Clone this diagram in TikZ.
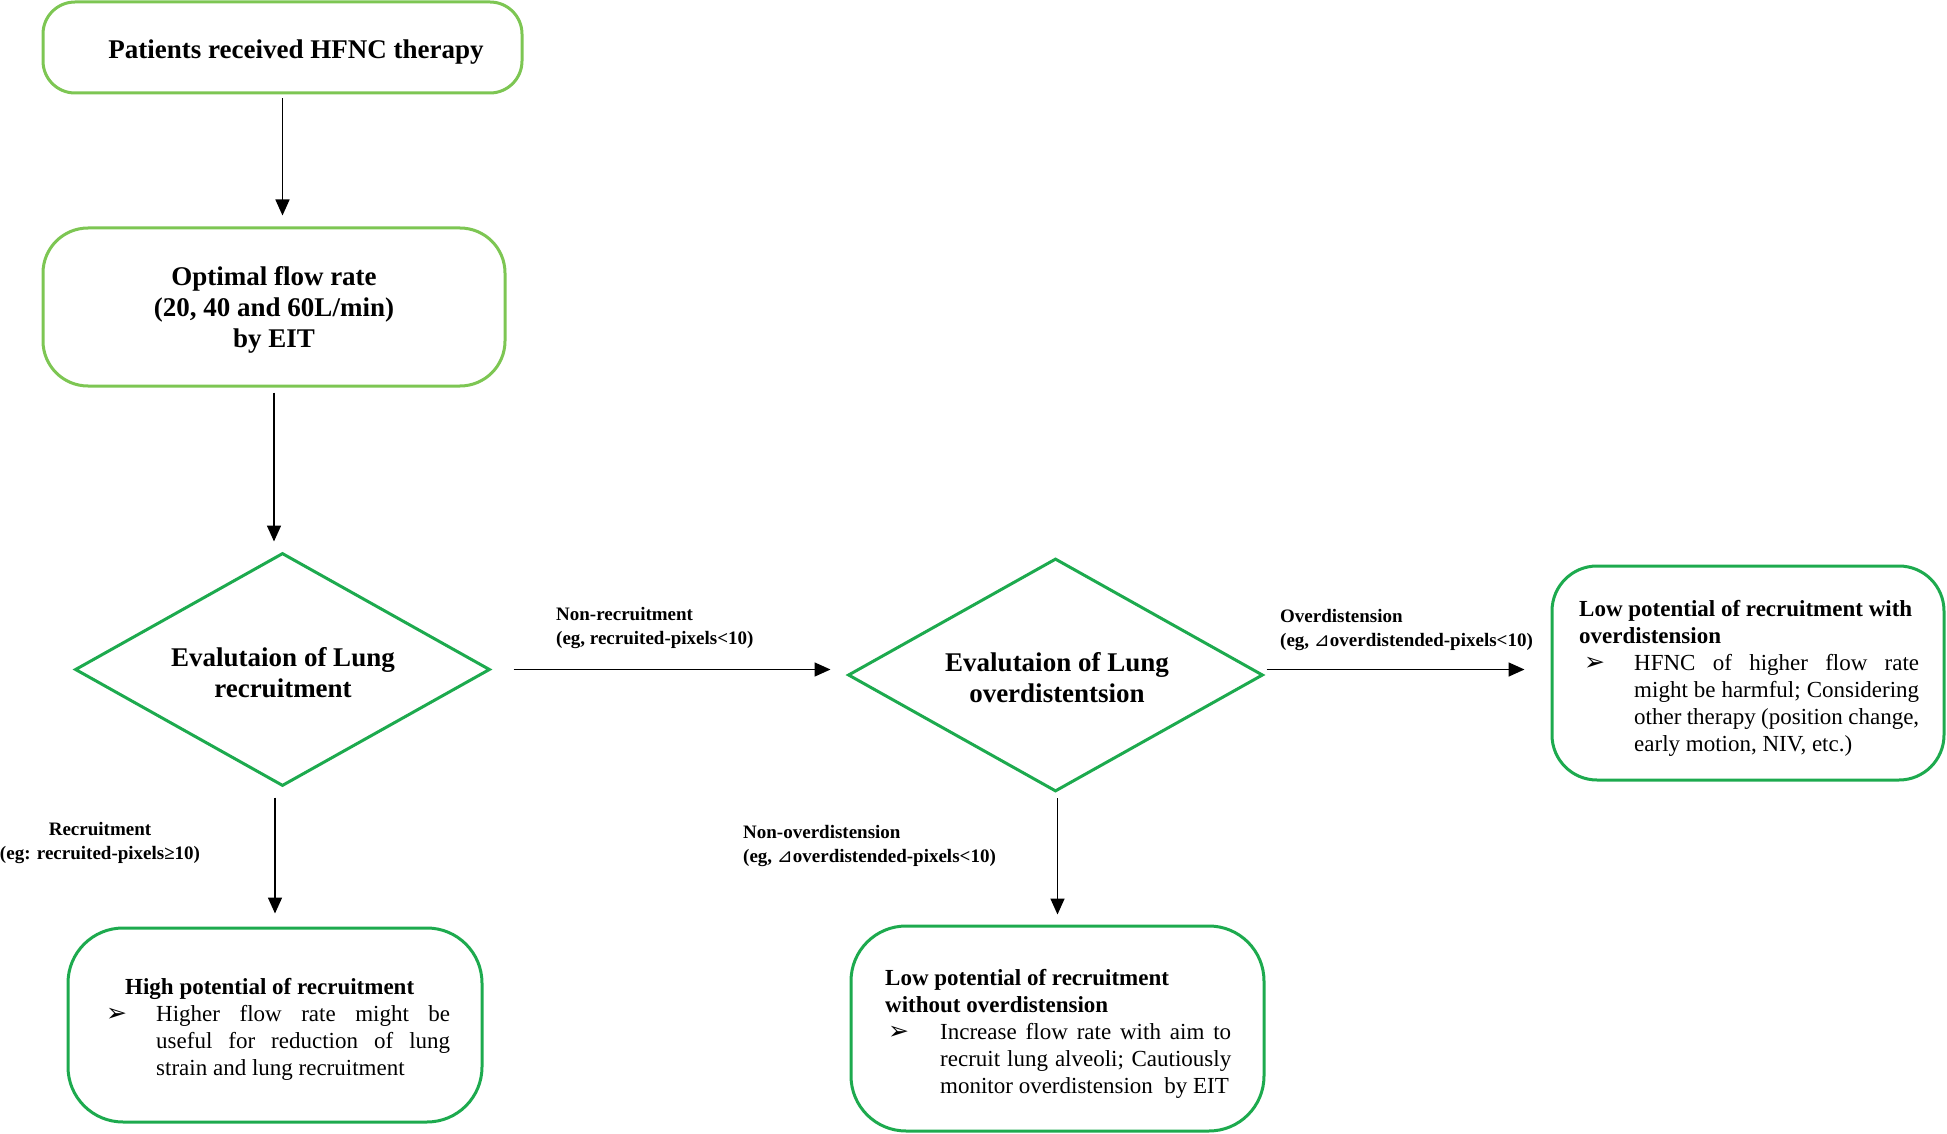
\documentclass[tikz,border=0pt]{standalone}
\usepackage{fontspec}
\setmainfont{Liberation Serif}
\newfontfamily\symfont{DejaVu Sans}
\usetikzlibrary{shapes.geometric,arrows.meta}
\definecolor{lgreen}{HTML}{7DC653}
\definecolor{dgreen}{HTML}{1DAA4E}
\newcommand{\bul}{{\symfont\fontsize{25}{25}\selectfont ➢}}
\newcommand{\tri}{{\symfont\mdseries ⊿}}
\begin{document}
\begin{tikzpicture}[x=1pt,y=-1pt,
  box/.style={draw, rounded corners=#1, line width=3pt, inner sep=0pt},
  head/.style={font=\bfseries\fontsize{27}{31}\selectfont, inner sep=0pt, align=center},
  dia/.style={diamond, draw=dgreen, line width=3pt, aspect=1.78, minimum width=415pt, minimum height=233pt, inner sep=0pt},
  body/.style={font=\fontsize{23}{27}\selectfont, inner sep=0pt, align=left},
  lab/.style={font=\bfseries\fontsize{19}{24}\selectfont, inner sep=0pt, align=left},
  arr/.style={line width=1.6pt, -{Triangle[length=16pt,width=14pt]}}]
\useasboundingbox (0,0) rectangle (1947,1134);
% boxes
\node[box=32pt, draw=lgreen, minimum width=479pt, minimum height=91pt] (b1) at (282.5,47.5) {};
\node[head] (t1) at (296,52) {Patients received HFNC therapy};
\node[box=45pt, draw=lgreen, minimum width=462pt, minimum height=158pt] (b2) at (274,307) {};
\node[head] (t2) at (274,310) {Optimal flow rate\\(20, 40 and 60L/min)\\by EIT};
\node[dia] (d1) at (282.5,669.5) {};
\node[head] (td1) at (283,673) {Evalutaion of Lung\\recruitment};
\node[dia] (d2) at (1055.5,675) {};
\node[head] (td2) at (1057,677.5) {Evalutaion of Lung\\overdistentsion};
\node[box=45pt, draw=dgreen, minimum width=392pt, minimum height=214pt] (b5) at (1748,673) {};
\node[box=55pt, draw=dgreen, minimum width=414pt, minimum height=194pt] (b3) at (275,1025) {};
\node[box=55pt, draw=dgreen, minimum width=413pt, minimum height=205pt] (b4) at (1057.5,1028.5) {};
% box texts
\node[body, anchor=west] (t3) at (106,1029.5) {\hspace*{19pt}\textbf{High potential of recruitment}\\
 \makebox[50pt][l]{\bul}\makebox[294pt][s]{Higher flow rate might be}\\
 \hspace*{50pt}\makebox[294pt][s]{useful for reduction of lung}\\
 \hspace*{50pt}strain and lung recruitment};
\node[body, anchor=west] (t5) at (1579,678) {\textbf{Low potential of recruitment with}\\
 \textbf{overdistension}\\
 \hspace*{5pt}\makebox[50pt][l]{\bul}\makebox[285pt][s]{HFNC of higher flow rate}\\
 \hspace*{55pt}\makebox[285pt][s]{might be harmful; Considering}\\
 \hspace*{55pt}\makebox[285pt][s]{other therapy (position change,}\\
 \hspace*{55pt}early motion, NIV, etc.)};
\node[body, anchor=west] (t4) at (885,1033.5) {\textbf{Low potential of recruitment}\\
 \textbf{without overdistension}\\
 \hspace*{3pt}\makebox[52pt][l]{\bul}\makebox[291pt][s]{Increase flow rate with aim to}\\
 \hspace*{55pt}\makebox[291pt][s]{recruit lung alveoli; Cautiously}\\
 \hspace*{55pt}monitor overdistension\ \ by EIT};
% edge labels
\node[lab, anchor=west] (l1) at (556,628.5) {Non-recruitment\\(eg, recruited-pixels<10)};
\node[lab, anchor=west] (l2) at (1280,630) {Overdistension\\(eg, \tri overdistended-pixels<10)};
\node[lab, align=center] (l3) at (100,842.5) {Recruitment\\(eg: recruited-pixels≥10)};
\node[lab, anchor=west] (l4) at (743,846) {Non-overdistension\\(eg, \tri overdistended-pixels<10)};
% arrows
\draw[arr, shorten <=4pt, shorten >=11pt] (b1.south) -- (b1.south |- b2.north);
\draw[arr, shorten <=5pt, shorten >=10pt] (b2.south) -- (b2.south |- d1.north);
\draw[arr, shorten <=22pt, shorten >=16pt] (d1.east) -- (d1.east -| d2.west);
\draw[arr, shorten <=2pt, shorten >=26pt] (d2.east |- d1.east) -- (d1.east -| b5.west);
\draw[arr, shorten <=10pt, shorten >=13pt] (d1.south -| b3.north) -- (b3.north);
\draw[arr, shorten <=5pt, shorten >=10pt] (d2.south -| b4.north) -- (b4.north);
\end{tikzpicture}
\end{document}
